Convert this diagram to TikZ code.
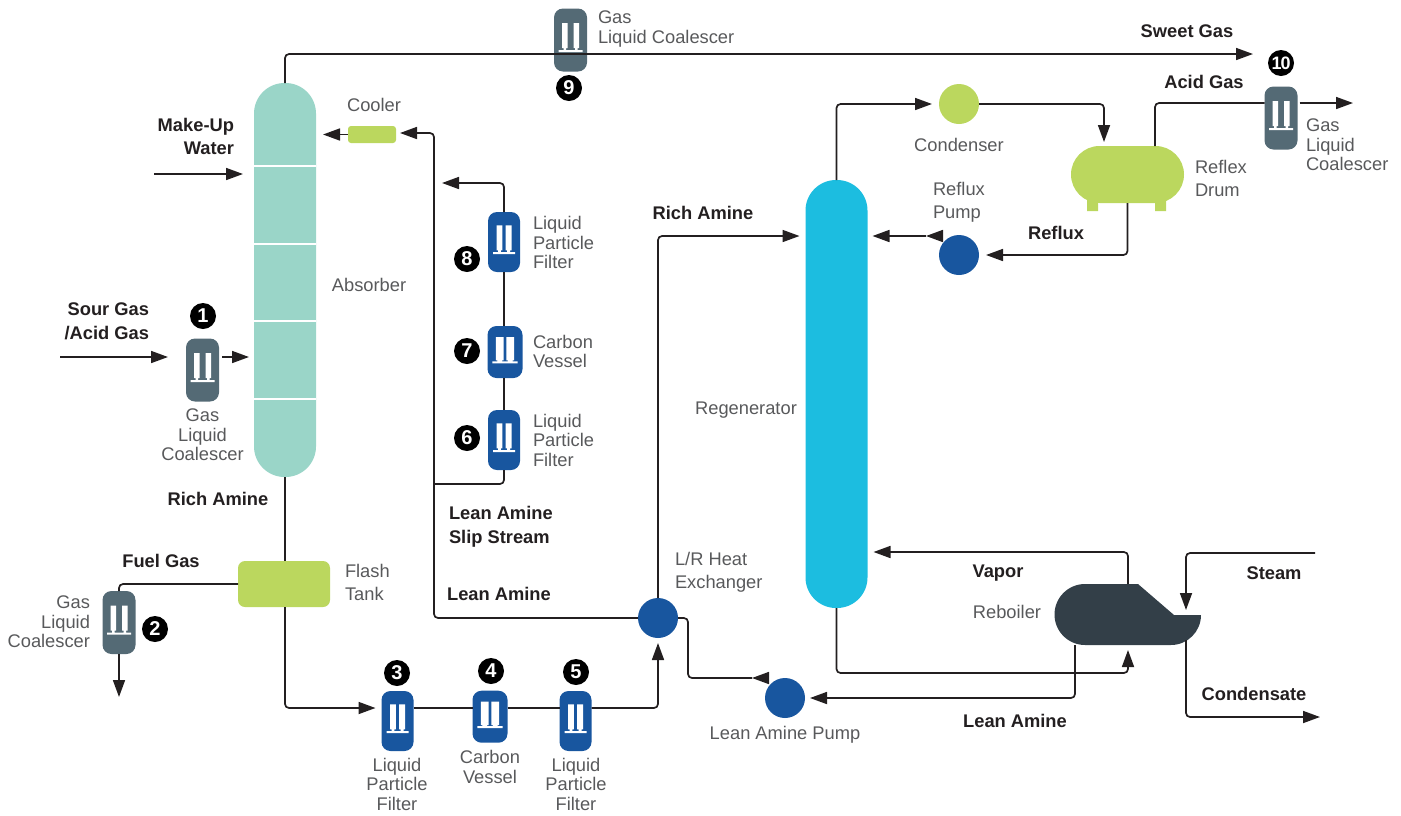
\documentclass[tikz,border=0pt]{standalone}
\usepackage{fontspec}
\setmainfont{Liberation Sans}
\usetikzlibrary{arrows.meta,shapes.geometric}

\definecolor{pipe}{HTML}{231F20}
\definecolor{labelgray}{HTML}{58595B}
\definecolor{absorbergreen}{HTML}{9AD5C8}
\definecolor{regenblue}{HTML}{1CBDE0}
\definecolor{limegreen}{HTML}{BBD75E}
\definecolor{slate}{HTML}{546A75}
\definecolor{filterblue}{HTML}{18569F}
\definecolor{reboilerdark}{HTML}{333F48}

% white cartridges inside a vessel: outer x, inner x, top, bar end, base
\newcommand{\candles}[5]{%
  \fill[white, sharp corners, shift={(path picture bounding box.center)}]
    (-#1,#3) rectangle (-#2,#4) (-#1+1.5,#4) rectangle (-#2-1.5,#5)
    (#2,#3) rectangle (#1,#4) (#2+1.5,#4) rectangle (#1-1.5,#5)
    (-#1-3.5,#5) rectangle (#1+3.5,#5+2);}

\begin{document}
\begin{tikzpicture}[x=1pt,y=-1pt,
  every node/.style = {inner sep=0pt, outer sep=0pt},
  txt/.style = {text=labelgray, font=\fontsize{18.3}{19.5}\selectfont, align=center},
  txtl/.style = {txt, align=left, anchor=west},
  txtr/.style = {txt, align=right, anchor=east},
  wide/.style = {font=\fontsize{18.3}{23}\selectfont},
  heavy/.style = {text=pipe, font=\fontsize{18.3}{23.5}\selectfont\bfseries, align=center},
  badge/.style = {circle, fill=black, text=white, minimum size=26,
    font=\fontsize{20}{20}\selectfont\bfseries},
  tower/.style = {rectangle, rounded corners=30.5, minimum width=62},
  vesselbox/.style = {rectangle, rounded corners=9},
  coalescer/.style = {vesselbox, fill=slate, minimum width=33, minimum height=63,
    path picture={\candles{8.5}{3}{-17}{8}{10}}},
  filterbox/.style = {vesselbox, fill=filterblue, minimum width=32, minimum height=60,
    path picture={\candles{7.5}{1.7}{-16.7}{8.3}{10}}},
  carbon/.style = {vesselbox, fill=filterblue, minimum width=35, minimum height=52,
    path picture={\candles{9.2}{1.3}{-15}{8.3}{9.3}}},
  ball/.style = {circle, minimum size=40, fill=#1},
  line/.style = {draw=pipe, line width=1.7, rounded corners=4},
  flow/.style = {line, -{Triangle[length=17,width=12]}}]

  % fixed picture size
  \useasboundingbox (0,0) rectangle (1401,815);

  % columns
  \node[tower, fill=absorbergreen, minimum height=394] (absorber) at (285,280) {};
  \foreach \y in {166,244,321,399}
    \draw[white, line width=2] (absorber.west |- 0,\y) -- (absorber.east |- 0,\y);
  \node[tower, fill=regenblue, minimum height=428] (regen) at (836.5,394) {};

  % small equipment
  \node[rectangle, rounded corners=3, fill=limegreen, minimum width=48, minimum height=17] (cooler) at (372,134.5) {};
  \node[rectangle, rounded corners=7, fill=limegreen, minimum width=92, minimum height=46] (flash) at (284,584) {};
  \node[ball=limegreen] (condenser) at (959,104) {};
  \node[ball=filterblue] (refluxpump) at (959,255) {};
  \node[ball=filterblue] (heat) at (658,618) {};
  \node[ball=filterblue] (leanpump) at (785,698) {};

  % reflux drum
  \fill[limegreen] (1087,200) rectangle (1098,211) (1155,200) rectangle (1166,211);
  \node[rectangle, rounded corners=28.5, fill=limegreen, minimum width=113, minimum height=57] (drum) at (1127.5,174.5) {};

  % reboiler
  \fill[reboilerdark] (1085,584) -- (1138,584) -- (1174,615) -- (1201,615)
    arc[start angle=0, end angle=90, radius=30] -- (1085,645)
    arc[start angle=90, end angle=270, radius=30.5] -- cycle;
  \coordinate (reboilertop) at (1128,584);
  \coordinate (reboilerlow) at (1075,645);
  \coordinate (reboilerin) at (1128,645);
  \coordinate (steamin) at (1186,615);
  \coordinate (reboilerout) at (1186,640);

  % filters and coalescers
  \node[coalescer] (gc1) at (202.5,370) {};
  \node[coalescer] (gc2) at (119,622.5) {};
  \node[coalescer] (gc9) at (570.5,40) {};
  \node[coalescer] (gc10) at (1281,118) {};
  \node[filterbox] (lpf3) at (397.5,721) {};
  \node[carbon] (cv4) at (490,716.7) {};
  \node[filterbox] (lpf5) at (575.5,721) {};
  \node[filterbox] (lpf6) at (504,440) {};
  \node[carbon] (cv7) at (505,352) {};
  \node[filterbox] (lpf8) at (504,242) {};

  % badges
  \node[badge] (b1) at (203,316) {1};
  \node[badge] (b2) at (155,629) {2};
  \node[badge] (b3) at (397,673) {3};
  \node[badge] (b4) at (491,671) {4};
  \node[badge] (b5) at (576,672) {5};
  \node[badge] (b6) at (467,438) {6};
  \node[badge] (b7) at (467,351) {7};
  \node[badge] (b8) at (467,259) {8};
  \node[badge] (b9) at (569,88) {9};
  \node[badge, font=\fontsize{18}{18}\selectfont\bfseries] (b10) at (1281,63) {1\kern-1pt 0};

  % free ends and bends
  \coordinate (sweetend) at (1253,54);
  \coordinate (makeupstart) at (154,174);
  \coordinate (sourstart) at (60,357);
  \coordinate (fuelend) at (119,697);
  \coordinate (leanup) at (434,133);
  \coordinate (slipend) at (434,484);
  \coordinate (slipout) at (442,183);
  \coordinate (leanmid) at (752,678);
  \coordinate (leantail) at (767,678);
  \coordinate (leanbend) at (688,618);
  \coordinate (refluxtail) at (942,236);
  \coordinate (refluxmid) at (926,236);
  \coordinate (steamstart) at (1315,553);
  \coordinate (condensend) at (1320,717);
  \coordinate (acidend) at (1353,103);
  \coordinate (richdown) at (285,708);

  % absorber side
  \draw[flow] (absorber.north) |- (gc9.west |- 0,54) -- (gc9.east |- 0,54) -- (sweetend);
  \draw[flow, shorten >=11] (makeupstart) -- (absorber.west |- makeupstart);
  \draw[flow, shorten >=18] (sourstart) -- (gc1.west |- sourstart);
  \draw[flow, shorten <=3, shorten >=5] (gc1.east |- sourstart) -- (absorber.west |- sourstart);
  \draw[flow, shorten >=7] (cooler.west) -- (absorber.east |- cooler.west);
  \draw[flow, shorten >=4] (heat.west) -| (leanup) -- (cooler.east |- leanup);
  \draw[flow] (lpf8.north) |- (slipout);
  \draw[line] (lpf8.south) -- (cv7.north -| lpf8.south);
  \draw[line] (cv7.south -| lpf6.north) -- (lpf6.north);
  \draw[line] (lpf6.south) |- (slipend);
  \draw[line] (absorber.south) -- (flash.north -| absorber.south);
  \draw[line] (flash.west) -| (gc2.north);
  \draw[flow] (gc2.south) -- (fuelend);

  % bottom train
  \draw[flow, shorten >=6] (flash.south -| richdown) -- (richdown) -- (lpf3.west |- richdown);
  \draw[line] (lpf3.east |- richdown) -- (cv4.west |- richdown);
  \draw[line] (cv4.east |- richdown) -- (lpf5.west |- richdown);
  \draw[flow, shorten >=5] (lpf5.east |- richdown) -| (heat.south);
  \draw[flow, shorten >=6] (heat.north) |- (regen.west |- 0,236);
  \draw[flow] (leantail) -- (leanmid);
  \draw[line] (leanmid) -| (leanbend) -- (heat.east);

  % regenerator side
  \draw[flow, shorten >=7] (regen.north) |- (condenser.west);
  \draw[flow, shorten >=4] (condenser.east) -| (drum.north -| 1104,0);
  \draw[flow] (refluxtail) -- (refluxmid);
  \draw[flow, shorten >=5] (refluxmid) -- (regen.east |- refluxmid);
  \draw[flow, shorten >=7] (drum.south) |- (refluxpump.east);
  \draw[line] (drum.north -| 1155,0) |- (gc10.west |- acidend);
  \draw[flow, shorten <=2] (gc10.east |- acidend) -- (acidend);
  \draw[flow, shorten >=6] (reboilertop) |- (regen.east |- 0,552);
  \draw[flow, shorten >=5] (regen.south) |- (1128,673) -- (reboilerin);
  \draw[flow, shorten >=5] (reboilerlow) |- (leanpump.east);
  \draw[flow, shorten >=5] (steamstart) -| (steamin);
  \draw[flow] (reboilerout) |- (condensend);

  % labels
  \node[heavy, align=right, anchor=east] (makeup) at (234,136.5) {Make-Up\\Water};
  \node[heavy, align=right, anchor=east] (sour) at (149,321.5) {Sour Gas\\/Acid Gas};
  \node[heavy] (richa) at (218,499) {Rich Amine};
  \node[heavy] (fuel) at (161,561) {Fuel Gas};
  \node[heavy, align=left, anchor=west] (slip) at (449,527) {Lean Amine\\Slip Stream};
  \node[heavy] (leana) at (499,594) {Lean Amine};
  \node[heavy] (richb) at (703,213) {Rich Amine};
  \node[heavy] (sweet) at (1187,31) {Sweet Gas};
  \node[heavy] (acid) at (1204,82) {Acid Gas};
  \node[heavy] (reflux) at (1056,233) {Reflux};
  \node[heavy] (vapor) at (998,573) {Vapor};
  \node[heavy] (steam) at (1274,573) {Steam};
  \node[heavy] (condensate) at (1254,694) {Condensate};
  \node[heavy] (leanb) at (1015,721) {Lean Amine};

  \node[txt] (t1) at (202.5,435) {Gas\\Liquid\\Coalescer};
  \node[txtr] (t2) at (90,622) {Gas\\Liquid\\Coalescer};
  \node[txt] (t3) at (397,784) {Liquid\\Particle\\Filter};
  \node[txt] (t4) at (490,767) {Carbon\\Vessel};
  \node[txt] (t5) at (576,784) {Liquid\\Particle\\Filter};
  \node[txtl] (t6) at (533,440) {Liquid\\Particle\\Filter};
  \node[txtl] (t7) at (533,351.5) {Carbon\\Vessel};
  \node[txtl] (t8) at (533,242.5) {Liquid\\Particle\\Filter};
  \node[txtl] (t9) at (598,29) {Gas\\Liquid Coalescer};
  \node[txtl] (t10) at (1306,145) {Gas\\Liquid\\Coalescer};
  \node[txt] (tcooler) at (374,105) {Cooler};
  \node[txt] (tabsorber) at (369,285) {Absorber};
  \node[txtl, wide] (tflash) at (345,582) {Flash\\Tank};
  \node[txt] (tpump) at (785,735) {Lean Amine Pump};
  \node[txtl, wide] (theat) at (675,572) {L/R Heat\\Exchanger};
  \node[txt] (tregen) at (746,410) {Regenerator};
  \node[txt] (tcond) at (959,145) {Condenser};
  \node[txtl, wide] (tdrum) at (1195,178) {Reflex\\Drum};
  \node[txtl, wide] (treflux) at (933,202.5) {Reflux\\Pump};
  \node[txt] (treb) at (1007,612) {Reboiler};
\end{tikzpicture}
\end{document}
